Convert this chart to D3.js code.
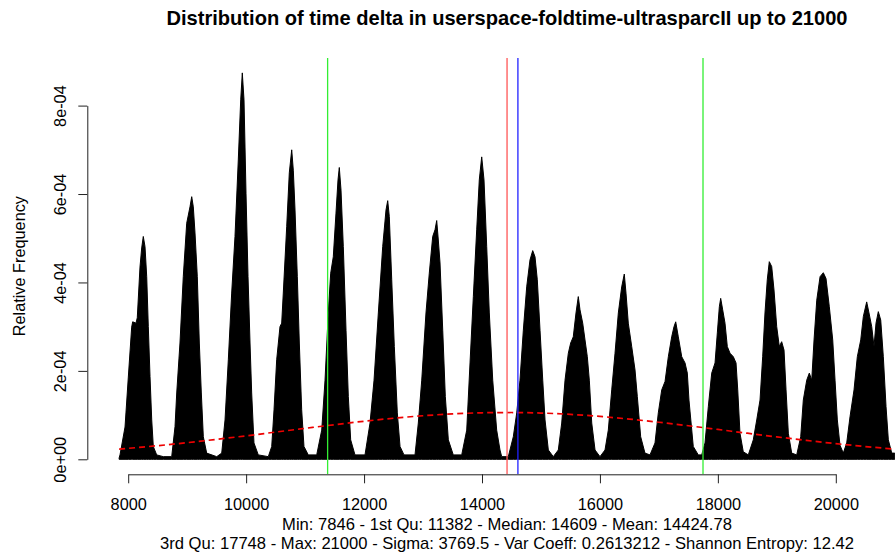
<!DOCTYPE html>
<html>
<head>
<meta charset="utf-8">
<script src="https://cdn.jsdelivr.net/npm/d3@7"></script>
<style>
  html, body { margin: 0; padding: 0; background: #ffffff; }
  svg { display: block; }
  text { font-family: "Liberation Sans", Arial, Helvetica, sans-serif; fill: #000; }
</style>
</head>
<body>
<svg id="chart" width="895" height="557"></svg>
<script>
// ---------------- data ----------------
const titleText = "Distribution of time delta in userspace-foldtime-ultrasparcII up to 21000";
const yLabelText = "Relative Frequency";
const subLine1 = "Min: 7846 - 1st Qu: 11382 - Median: 14609 - Mean: 14424.78";
const subLine2 = "3rd Qu: 17748 - Max: 21000 - Sigma: 3769.5 - Var Coeff: 0.2613212 - Shannon Entropy: 12.42";

const xTicks = [8000, 10000, 12000, 14000, 16000, 18000, 20000];
const yTicks = [0, 2e-4, 4e-4, 6e-4, 8e-4];
const yTickLabels = ["0e+00", "2e-04", "4e-04", "6e-04", "8e-04"];

// Summary statistics (vertical markers)
const quartile1 = 11382;
const quartile3 = 17748;
const meanValue = 14424.78;
const medianValue = 14609;

// Outline of the relative-frequency distribution (time delta, relative frequency)
const timeDelta = [
  7846, 7861, 7946, 8002, 8059, 8076, 8132, 8154, 8200, 8229, 8256, 8285, 8314, 8341, 8370, 8399, 8426, 8483, 8595, 8738,
  8794, 8823, 8878, 8934, 8992, 9048, 9077, 9104, 9133, 9172, 9206, 9240, 9274, 9331, 9501, 9586,
  9642, 9698, 9755, 9811, 9867, 9908, 9935, 9964, 9998, 10032, 10066, 10094, 10133, 10206, 10376, 10434,
  10473, 10518, 10574, 10603, 10630, 10688, 10732, 10773, 10800, 10829, 10868, 10902, 10942, 10981, 11054, 11197, 11282,
  11338, 11393, 11434, 11478, 11524, 11558, 11580, 11609, 11648, 11694, 11733, 11773, 11846, 12016, 12101,
  12169, 12242, 12316, 12372, 12401, 12428, 12469, 12513, 12564, 12610, 12677, 12864, 12920,
  12978, 13050, 13106, 13164, 13203, 13232, 13259, 13288, 13334, 13378, 13429, 13513, 13656, 13741,
  13797, 13853, 13910, 13954, 13995, 14034, 14080, 14124, 14182, 14249, 14305, 14334, 14446, 14531,
  14589, 14644, 14701, 14758, 14814, 14860, 14899, 14938, 14984, 15030, 15069, 15125, 15209, 15294,
  15352, 15408, 15464, 15504, 15548, 15594, 15633, 15662, 15708, 15747, 15786, 15820, 15861, 15917, 16001, 16086,
  16142, 16200, 16256, 16312, 16369, 16413, 16442, 16481, 16539, 16595, 16634, 16691, 16764, 16849, 16934,
  16990, 17048, 17104, 17160, 17217, 17256, 17285, 17329, 17387, 17443, 17482, 17510, 17583, 17668, 17726, 17782,
  17838, 17896, 17952, 17991, 18025, 18048, 18082, 18121, 18160, 18206, 18262, 18308, 18337, 18375, 18431, 18516, 18601,
  18659, 18715, 18760, 18799, 18838, 18872, 18913, 18952, 18998, 19042, 19082, 19122, 19156, 19195, 19252, 19337, 19405,
  19449, 19507, 19551, 19592, 19631, 19677, 19733, 19788, 19834, 19890, 19948, 19987, 20026, 20071, 20127, 20185,
  20241, 20309, 20365, 20423, 20467, 20524, 20563, 20609, 20648, 20682, 20721, 20762, 20806, 20852, 20891, 20949, 21000
];
const relFreq = [
  0.03e-4, 0.10e-4, 0.73e-4, 1.86e-4, 2.99e-4, 3.11e-4, 3.08e-4, 3.20e-4, 4.35e-4, 4.78e-4, 5.04e-4, 4.81e-4, 4.13e-4, 3.00e-4, 1.87e-4, 0.89e-4, 0.29e-4, 0.10e-4, 0.06e-4, 0.06e-4,
  0.74e-4, 1.50e-4, 2.63e-4, 4.13e-4, 5.34e-4, 5.71e-4, 5.94e-4, 5.71e-4, 5.12e-4, 4.13e-4, 2.63e-4, 1.50e-4, 0.51e-4, 0.14e-4, 0.06e-4, 0.14e-4,
  0.89e-4, 2.25e-4, 3.76e-4, 5.04e-4, 6.77e-4, 8.13e-4, 8.74e-4, 8.13e-4, 6.02e-4, 4.13e-4, 2.63e-4, 1.50e-4, 0.37e-4, 0.10e-4, 0.06e-4, 0.29e-4,
  1.12e-4, 2.25e-4, 3.00e-4, 3.08e-4, 3.76e-4, 5.26e-4, 6.48e-4, 7.00e-4, 6.54e-4, 5.64e-4, 4.13e-4, 2.63e-4, 1.12e-4, 0.29e-4, 0.10e-4, 0.10e-4, 0.66e-4,
  1.79e-4, 3.31e-4, 4.21e-4, 4.58e-4, 5.57e-4, 6.32e-4, 6.60e-4, 6.09e-4, 4.81e-4, 2.92e-4, 1.42e-4, 0.44e-4, 0.10e-4, 0.10e-4, 0.82e-4,
  1.79e-4, 3.31e-4, 4.81e-4, 5.64e-4, 5.85e-4, 5.49e-4, 4.06e-4, 2.55e-4, 1.05e-4, 0.29e-4, 0.10e-4, 0.10e-4, 0.82e-4,
  1.79e-4, 3.31e-4, 4.21e-4, 5.04e-4, 5.19e-4, 5.40e-4, 4.96e-4, 4.44e-4, 2.92e-4, 1.42e-4, 0.44e-4, 0.10e-4, 0.10e-4, 0.66e-4,
  2.18e-4, 3.68e-4, 5.19e-4, 6.32e-4, 6.84e-4, 6.32e-4, 4.81e-4, 3.31e-4, 1.79e-4, 0.66e-4, 0.21e-4, 0.06e-4, 0.06e-4, 0.51e-4,
  1.05e-4, 1.79e-4, 2.92e-4, 3.90e-4, 4.51e-4, 4.72e-4, 4.58e-4, 4.06e-4, 2.92e-4, 1.79e-4, 0.89e-4, 0.21e-4, 0.06e-4, 0.21e-4,
  0.82e-4, 1.79e-4, 2.40e-4, 2.63e-4, 2.77e-4, 3.31e-4, 3.68e-4, 3.38e-4, 3.08e-4, 2.70e-4, 2.32e-4, 1.79e-4, 0.82e-4, 0.21e-4, 0.06e-4, 0.21e-4,
  0.66e-4, 1.57e-4, 2.40e-4, 3.31e-4, 3.90e-4, 4.19e-4, 3.76e-4, 3.08e-4, 2.55e-4, 2.02e-4, 1.42e-4, 0.51e-4, 0.14e-4, 0.10e-4, 0.37e-4,
  1.05e-4, 1.57e-4, 1.76e-4, 2.32e-4, 2.77e-4, 3.00e-4, 3.11e-4, 2.77e-4, 2.32e-4, 2.18e-4, 1.95e-4, 1.34e-4, 0.29e-4, 0.10e-4, 0.10e-4, 0.37e-4,
  1.19e-4, 1.95e-4, 2.18e-4, 2.86e-4, 3.45e-4, 3.64e-4, 3.38e-4, 3.08e-4, 2.55e-4, 2.40e-4, 2.32e-4, 2.18e-4, 1.57e-4, 0.59e-4, 0.17e-4, 0.10e-4, 0.44e-4,
  0.89e-4, 1.34e-4, 2.32e-4, 3.31e-4, 4.06e-4, 4.47e-4, 4.36e-4, 3.83e-4, 3.00e-4, 2.55e-4, 2.66e-4, 2.47e-4, 1.57e-4, 0.59e-4, 0.14e-4, 0.10e-4, 0.51e-4,
  1.34e-4, 1.79e-4, 1.95e-4, 1.79e-4, 2.70e-4, 3.60e-4, 4.13e-4, 4.22e-4, 4.09e-4, 3.45e-4, 2.70e-4, 1.79e-4, 0.89e-4, 0.32e-4, 0.14e-4, 0.37e-4,
  0.96e-4, 1.57e-4, 2.32e-4, 2.70e-4, 3.23e-4, 3.56e-4, 3.31e-4, 3.00e-4, 2.55e-4, 3.08e-4, 3.34e-4, 3.15e-4, 2.32e-4, 1.19e-4, 0.44e-4, 0.14e-4, 0.14e-4
];

// Fitted normal density (dashed red), read at regular points
const normalX = [7846, 8000, 8500, 9000, 9500, 10000, 10500, 11000, 11500, 12000, 12500, 13000, 13500, 14000, 14500,
  15000, 15500, 16000, 16500, 17000, 17500, 18000, 18500, 19000, 19500, 20000, 20500, 21000];
const normalY = [0.231e-4, 0.248e-4, 0.308e-4, 0.376e-4, 0.451e-4, 0.531e-4, 0.616e-4, 0.700e-4, 0.783e-4, 0.861e-4, 0.929e-4, 0.985e-4, 1.027e-4, 1.052e-4, 1.058e-4,
  1.046e-4, 1.016e-4, 0.970e-4, 0.909e-4, 0.838e-4, 0.759e-4, 0.675e-4, 0.590e-4, 0.507e-4, 0.428e-4, 0.354e-4, 0.289e-4, 0.231e-4];

// ---------------- layout ----------------
const svg = d3.select("#chart");
const plotLeft = 87.3, plotRight = 926.7, plotTop = 58, plotBottom = 474.3;

const x = d3.scaleLinear().domain([8000, 20000]).range([128.2, 835.8]);
const y = d3.scaleLinear().domain([0, 8e-4]).range([459.3, 105.6]);

const defs = svg.append("defs");
defs.append("clipPath").attr("id", "plotClip")
  .append("rect").attr("x", plotLeft).attr("y", plotTop)
  .attr("width", plotRight - plotLeft).attr("height", plotBottom - plotTop);

const plot = svg.append("g").attr("clip-path", "url(#plotClip)");

// distribution (filled black)
const distData = timeDelta.map((t, i) => ({ t: t, f: relFreq[i] }));
const area = d3.area()
  .x(d => x(d.t))
  .y0(y(0))
  .y1(d => y(d.f))
  .curve(d3.curveLinear);
plot.append("path")
  .datum(distData)
  .attr("d", area)
  .attr("fill", "#000")
  .attr("stroke", "#000")
  .attr("stroke-width", 1);

// normal curve
const normData = normalX.map((t, i) => ({ t: t, f: normalY[i] }));
plot.append("path")
  .datum(normData)
  .attr("d", d3.line().x(d => x(d.t)).y(d => y(d.f)).curve(d3.curveMonotoneX))
  .attr("fill", "none")
  .attr("stroke", "#ee0000")
  .attr("stroke-width", 1.7)
  .attr("stroke-dasharray", "6,4");

// vertical markers
const markers = [
  { v: quartile1, c: "#33ee33" },
  { v: meanValue, c: "#ff5555" },
  { v: medianValue, c: "#2222ff" },
  { v: quartile3, c: "#33ee33" }
];
plot.selectAll("line.marker").data(markers).enter().append("line")
  .attr("class", "marker")
  .attr("x1", d => x(d.v)).attr("x2", d => x(d.v))
  .attr("y1", plotTop).attr("y2", plotBottom)
  .attr("stroke", d => d.c)
  .attr("stroke-width", 1.3);

// x axis
const xAxis = d3.axisBottom(x).tickValues(xTicks).tickFormat(d3.format("d"))
  .tickSize(9).tickSizeOuter(0);
const gx = svg.append("g").attr("transform", `translate(0,${plotBottom})`).call(xAxis);
gx.selectAll("text").attr("font-size", 16.3).attr("font-family", "Liberation Sans, Arial, sans-serif")
  .attr("dy", 0).attr("y", 36.2);
gx.selectAll("path, line").attr("stroke", "#222");

// y axis
const yAxis = d3.axisLeft(y).tickValues(yTicks).tickFormat((d, i) => yTickLabels[i])
  .tickSize(9).tickSizeOuter(0);
const gy = svg.append("g").attr("transform", `translate(${plotLeft},0)`).call(yAxis);
gy.selectAll("text")
  .attr("font-size", 16.3).attr("font-family", "Liberation Sans, Arial, sans-serif")
  .attr("text-anchor", "middle")
  .attr("transform", "rotate(-90)")
  .attr("x", 0).attr("dy", 0).attr("y", -21.3);
gy.selectAll("path, line").attr("stroke", "#222");

// titles
const cx = (plotLeft + plotRight) / 2;
svg.append("text").attr("x", cx).attr("y", 25)
  .attr("text-anchor", "middle").attr("font-size", 20.1).attr("font-weight", "bold")
  .text(titleText);
svg.append("text").attr("x", cx).attr("y", 530)
  .attr("text-anchor", "middle").attr("font-size", 16.6).text(subLine1);
svg.append("text").attr("x", cx).attr("y", 549)
  .attr("text-anchor", "middle").attr("font-size", 16.6).text(subLine2);
svg.append("text")
  .attr("transform", `translate(25,${(plotTop + plotBottom) / 2}) rotate(-90)`)
  .attr("text-anchor", "middle").attr("font-size", 16.3).text(yLabelText);
</script>
</body>
</html>
